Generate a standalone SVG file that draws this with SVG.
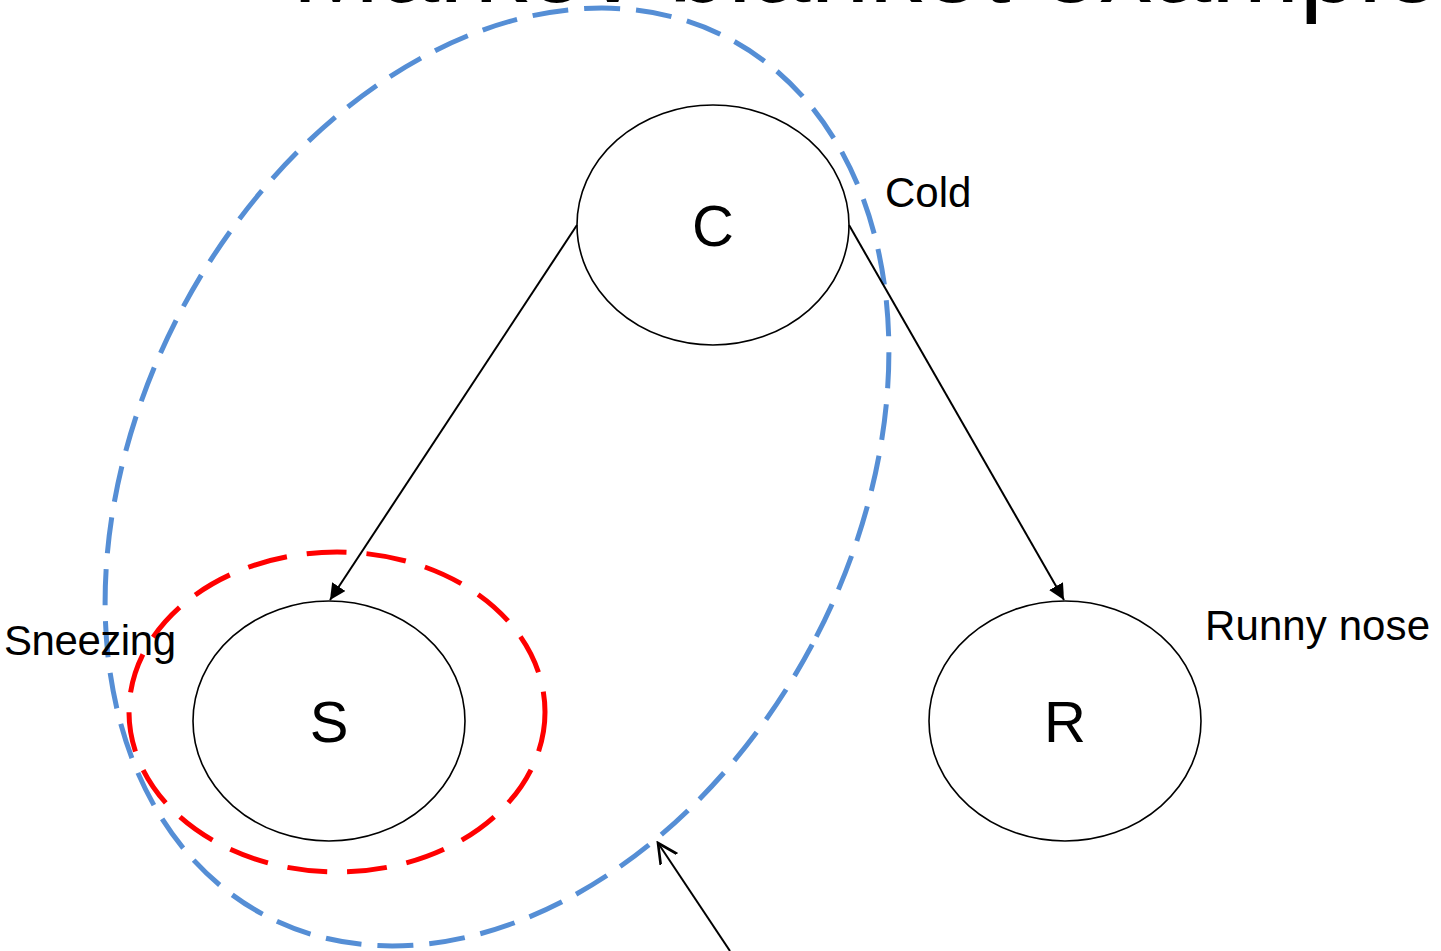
<svg xmlns="http://www.w3.org/2000/svg" width="1441" height="951" viewBox="0 0 1441 951">
<style>
.node{fill:#fff;stroke:#000;stroke-width:1.6}
.lbl{font-family:"Liberation Sans",Arial,sans-serif;fill:#000}
.big{font-size:58px;text-anchor:middle}
.side{font-size:42px}
.edge{stroke:#000;stroke-width:2;fill:none}
</style>
<defs>
<marker id="tri" viewBox="0 0 10 10" refX="10" refY="5" markerWidth="16" markerHeight="16" markerUnits="userSpaceOnUse" orient="auto">
<path d="M0,0 L10,5 L0,10 z" fill="#000"/>
</marker>
<marker id="open" viewBox="0 0 10 10" refX="9" refY="5" markerWidth="22" markerHeight="22" markerUnits="userSpaceOnUse" orient="auto">
<path d="M0,0.5 L9,5 L0,9.5" fill="none" stroke="#000" stroke-width="1.2"/>
</marker>
</defs>
<rect width="1441" height="951" fill="#fff"/>
<text class="lbl" x="292" y="2" font-size="106">Markov blanket example</text>
<g id="blanket">
<ellipse cx="497" cy="477" rx="357" ry="496" transform="rotate(28 497 477)" fill="none" stroke="#558ED5" stroke-width="5" stroke-dasharray="36 16"/>
<ellipse cx="337" cy="712" rx="208" ry="160" fill="none" stroke="#FF0000" stroke-width="5" stroke-dasharray="40 20"/>
</g>
<g id="connectors">
<line class="edge" x1="577" y1="225" x2="330" y2="600" marker-end="url(#tri)"/>
<line class="edge" x1="849" y1="225" x2="1064" y2="600" marker-end="url(#tri)"/>
<line class="edge" x1="730" y1="951" x2="658" y2="843" marker-end="url(#open)"/>
</g>
<g id="node-C">
<ellipse class="node" cx="713" cy="225" rx="136" ry="120" style="fill:none"/>
<text class="lbl big" x="713" y="246">C</text>
<text class="lbl side" x="885" y="207">Cold</text>
</g>
<g id="node-S">
<ellipse class="node" cx="329" cy="721" rx="136" ry="120" style="fill:none"/>
<text class="lbl big" x="329" y="742">S</text>
<text class="lbl side" x="4" y="655" textLength="172">Sneezing</text>
</g>
<g id="node-R">
<ellipse class="node" cx="1065" cy="721" rx="136" ry="120"/>
<text class="lbl big" x="1065" y="742">R</text>
<text class="lbl side" x="1205" y="640" textLength="225">Runny nose</text>
</g>
</svg>
